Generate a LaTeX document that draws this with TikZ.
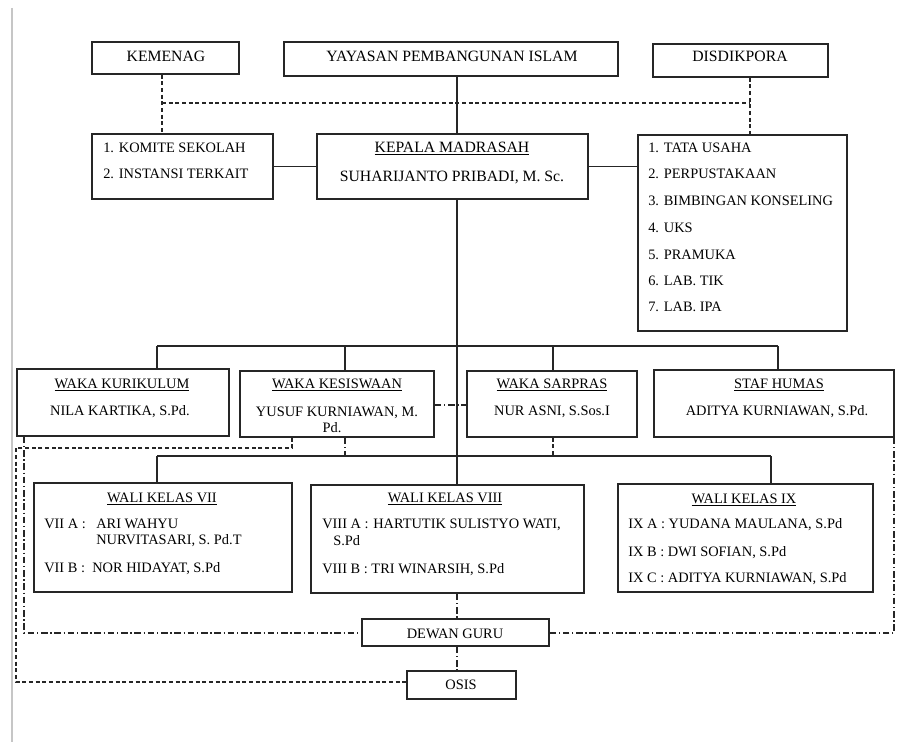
\documentclass[tikz,border=0pt]{standalone}
\usepackage{fontspec}
\setmainfont{Liberation Serif}
\usetikzlibrary{fit}
\begin{document}
\begin{tikzpicture}[x=0.75pt,y=-0.75pt,
  box/.style={draw=black!85, line width=1pt, inner sep=0pt, fit={#1}},
  solidln/.style={draw=black!85, line width=1pt},
  dashln/.style={draw=black!85, line width=0.8pt, dash pattern=on 3pt off 2pt},
  dotdash/.style={draw=black!85, line width=0.8pt, dash pattern=on 5pt off 2pt on 1pt off 2pt},
  txt/.style={font=\fontsize{10.8}{13}\selectfont, inner sep=0pt, text=black},
  big/.style={font=\fontsize{11.8}{14}\selectfont},
  ctr/.style={txt, anchor=base},
  lft/.style={txt, anchor=base west}]
\useasboundingbox (0,0) rectangle (897,742);
\draw[gray!45, line width=2.2pt] (12,8) -- (12,742);

% boxes
\node[box={(92,42) (239,74)}] (kemenag) {};
\node[box={(284,42) (618,76)}] (yayasan) {};
\node[box={(653,44) (828,77)}] (disdik) {};
\node[box={(92,134) (273,199)}] (komite) {};
\node[box={(317,134) (588,199)}] (kepala) {};
\node[box={(638,135) (847,331)}] (tata) {};
\node[box={(17,369) (229,436)}] (kurik) {};
\node[box={(240,371) (434,437)}] (kesis) {};
\node[box={(467,371) (637,437)}] (sarpras) {};
\node[box={(654,370) (894,437)}] (humas) {};
\node[box={(34,483) (292,592)}] (wali7) {};
\node[box={(311,485) (584,593)}] (wali8) {};
\node[box={(618,484) (873,592)}] (wali9) {};
\node[box={(362,619) (549,646)}] (dewan) {};
\node[box={(407,671) (516,699)}] (osis) {};

% texts
\node[ctr,big] (tkem) at (166,62) {KEMENAG};
\node[ctr,big] (tyay) at (452,62) {YAYASAN PEMBANGUNAN ISLAM};
\node[ctr,big] (tdis) at (740,62) {DISDIKPORA};
\node[lft] (tko1) at (103,152) {1. KOMITE SEKOLAH};
\node[lft] (tko2) at (103,179) {2. INSTANSI TERKAIT};
\node[ctr,big] (tkep1) at (452,152) {\underline{KEPALA MADRASAH}};
\node[ctr,big] (tkep2) at (452,181) {SUHARIJANTO PRIBADI, M. Sc.};
\node[lft] (tt1) at (648,152) {1. TATA USAHA};
\node[lft] (tt2) at (648,178) {2. PERPUSTAKAAN};
\node[lft] (tt3) at (648,205) {3. BIMBINGAN KONSELING};
\node[lft] (tt4) at (648,232) {4. UKS};
\node[lft] (tt5) at (648,259) {5. PRAMUKA};
\node[lft] (tt6) at (648,285) {6. LAB. TIK};
\node[lft] (tt7) at (648,311) {7. LAB. IPA};
\node[ctr] (tku1) at (122,388) {\underline{WAKA KURIKULUM}};
\node[ctr] (tku2) at (120,415) {NILA KARTIKA, S.Pd.};
\node[ctr] (tke1) at (337,388) {\underline{WAKA KESISWAAN}};
\node[ctr] (tke2) at (337,416) {YUSUF KURNIAWAN, M.};
\node[ctr] (tke3) at (332,432) {Pd.};
\node[ctr] (tsa1) at (552,388) {\underline{WAKA SARPRAS}};
\node[ctr] (tsa2) at (552,415) {NUR ASNI, S.Sos.I};
\node[ctr] (thu1) at (779,388) {\underline{STAF HUMAS}};
\node[ctr] (thu2) at (777,415) {ADITYA KURNIAWAN, S.Pd.};
\node[ctr] (tw71) at (162,502) {\underline{WALI KELAS VII}};
\node[lft] (tw72) at (44,528) {VII A :};
\node[lft] (tw73) at (96,528) {ARI WAHYU};
\node[lft] (tw74) at (96,544) {NURVITASARI, S. Pd.T};
\node[lft] (tw75) at (44,572) {VII B :};
\node[lft] (tw76) at (92,572) {NOR HIDAYAT, S.Pd};
\node[ctr] (tw81) at (445,502) {\underline{WALI KELAS VIII}};
\node[lft] (tw82) at (322,528) {VIII A :};
\node[lft] (tw83) at (373,528) {HARTUTIK SULISTYO WATI,};
\node[lft] (tw84) at (333,545) {S.Pd};
\node[lft] (tw85) at (322,573) {VIII B : TRI WINARSIH, S.Pd};
\node[ctr] (tw91) at (744,503) {\underline{WALI KELAS IX}};
\node[lft] (tw92) at (628,528) {IX A : YUDANA MAULANA, S.Pd};
\node[lft] (tw93) at (628,556) {IX B : DWI SOFIAN, S.Pd};
\node[lft] (tw94) at (628,582) {IX C : ADITYA KURNIAWAN, S.Pd};
\node[ctr] (tdew) at (455,638) {DEWAN GURU};
\node[ctr] (tosi) at (461,689) {OSIS};

% coordinates
\coordinate (xk) at (162,103);
\coordinate (xd) at (750,103);
\coordinate (tr) at (457,0);
\coordinate (b2l) at (157,346);
\coordinate (b2k) at (345,346);
\coordinate (b2s) at (553,346);
\coordinate (b2r) at (778,346);
\coordinate (mid) at (0,405);
\coordinate (b3l) at (157,456);
\coordinate (b3k) at (345,456);
\coordinate (b3s) at (553,456);
\coordinate (b3r) at (771,456);
\coordinate (o1) at (292,448);
\coordinate (o2) at (16,448);
\coordinate (o3) at (16,682);
\coordinate (i1) at (24,633);
\coordinate (i2) at (894,633);

% connectors
\draw[dashln] (kemenag.south -| xk) -- (komite.north -| xk);
\draw[dashln] (xk) -- (xd);
\draw[dashln] (disdik.south -| xd) -- (tata.north -| xd);
\draw[solidln] (yayasan.south -| tr) -- (kepala.north -| tr);
\draw[solidln] (kepala.south -| tr) -- (wali8.north -| tr);
\draw[solidln] (komite.east) -- (kepala.west);
\draw[solidln] (kepala.east) -- (kepala.east -| tata.west);
\draw[solidln] (b2l) -- (b2r);
\draw[solidln] (b2l) -- (kurik.north -| b2l);
\draw[solidln] (b2k) -- (kesis.north -| b2k);
\draw[solidln] (b2s) -- (sarpras.north -| b2s);
\draw[solidln] (b2r) -- (humas.north -| b2r);
\draw[dotdash] (kesis.east |- mid) -- (sarpras.west |- mid);
\draw[dotdash] (kesis.south -| b3k) -- (b3k);
\draw[dashln] (sarpras.south -| b3s) -- (b3s);
\draw[solidln] (b3l) -- (b3r);
\draw[solidln] (b3l) -- (wali7.north -| b3l);
\draw[solidln] (b3r) -- (wali9.north -| b3r);
\draw[dashln] (kesis.south -| o1) -- (o1) -- (o2) -- (o3) -- (osis.west |- o3);
\draw[dotdash] (kurik.south -| i1) -- (i1) -- (dewan.west |- i1);
\draw[dotdash] (humas.south -| i2) -- (i2) -- (dewan.east |- i2);
\draw[dotdash] (wali8.south -| tr) -- (dewan.north -| tr);
\draw[dotdash] (dewan.south -| tr) -- (osis.north -| tr);
\end{tikzpicture}
\end{document}
